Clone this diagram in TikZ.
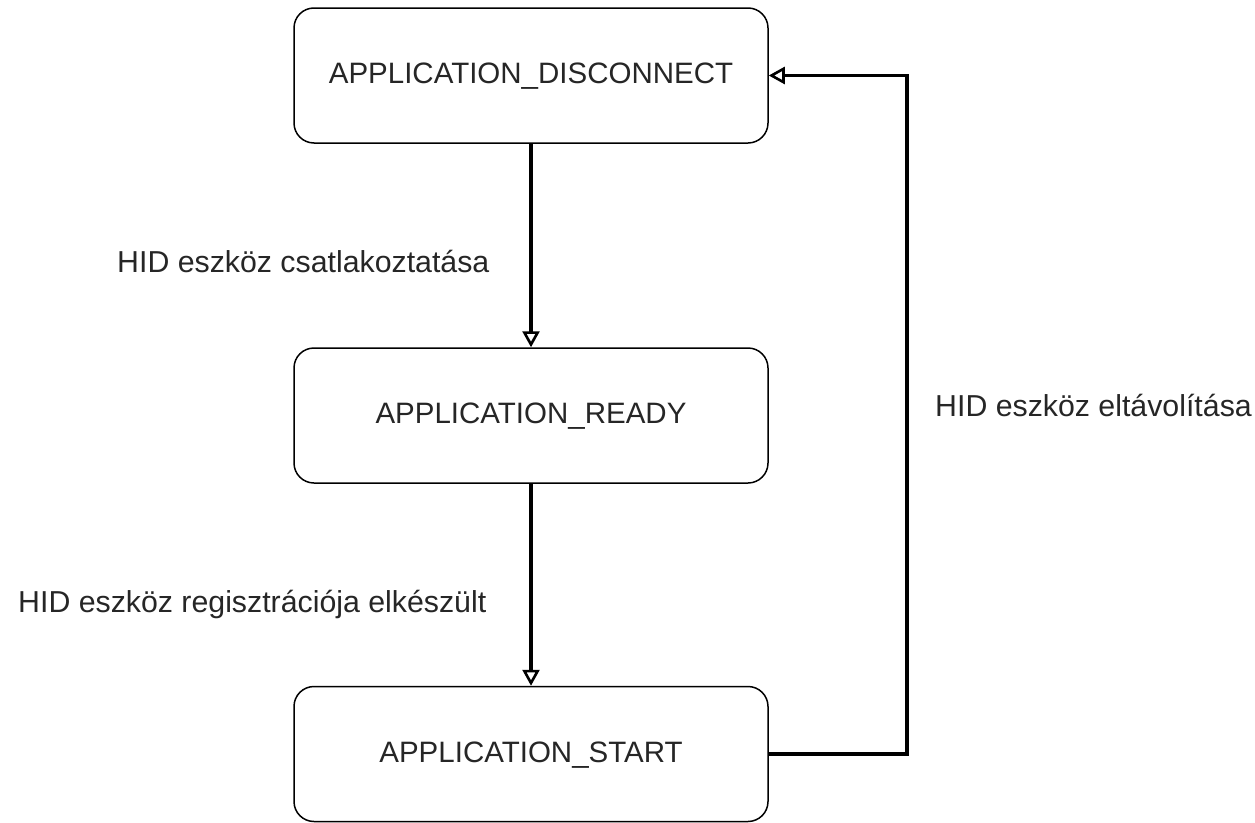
\documentclass[tikz,border=0pt]{standalone}
\usepackage{fontspec}
\setmainfont{Liberation Sans}
\usetikzlibrary{arrows.meta}
\begin{document}
\begin{tikzpicture}[x=1pt,y=-1pt,
  state/.style={draw, line width=1.5pt, rounded corners=20pt, minimum width=474pt, minimum height=135pt,
    font=\fontsize{29.5}{34}\selectfont, inner sep=0pt, text height=20pt, text depth=4pt, text=black!85},
  lbl/.style={font=\fontsize{30.3}{34}\selectfont, inner sep=0pt, anchor=base west, text=black!85},
  conn/.style={line width=3.2pt, -{Triangle[open,length=16pt,width=17pt,line width=2.6pt]}}]
\useasboundingbox (0,0) rectangle (1255,822);
\node[state] (dis) at (531,75.5) {APPLICATION\_DISCONNECT};
\node[state] (rdy) at (531,415.5) {APPLICATION\_READY};
\node[state] (st) at (531,754) {APPLICATION\_START};
\node[lbl] (l1) at (117,272) {HID eszköz csatlakoztatása};
\node[lbl] (l2) at (18,612) {HID eszköz regisztrációja elkészült};
\node[lbl] (l3) at (935,416) {HID eszköz eltávolítása};
\coordinate (c) at (907,754);
\draw[conn] (dis) -- (rdy);
\draw[conn] (rdy) -- (st);
\draw[conn] (st.east) -- (c) |- (dis.east);
\end{tikzpicture}
\end{document}
